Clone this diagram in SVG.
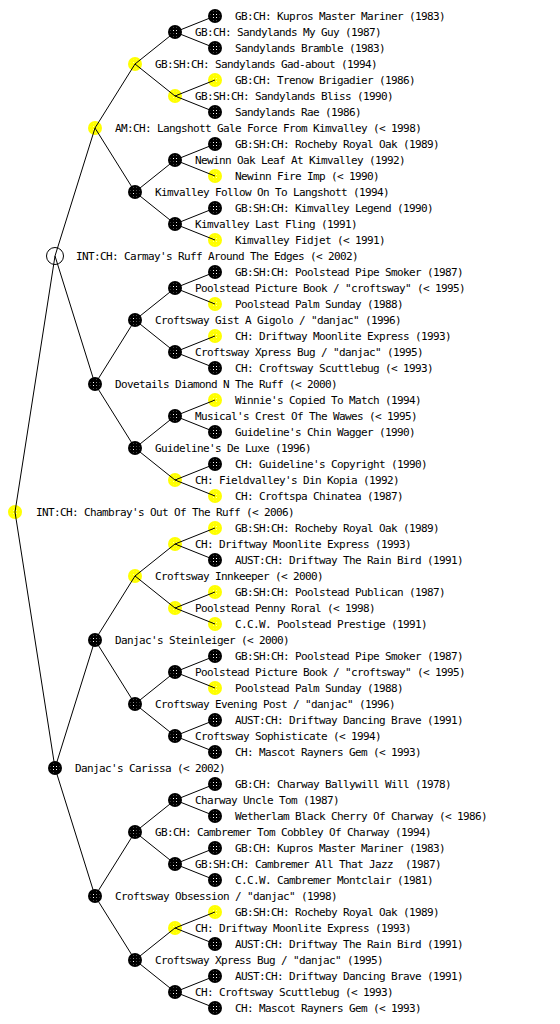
<svg xmlns="http://www.w3.org/2000/svg" xmlns:xlink="http://www.w3.org/1999/xlink" width="560" height="1024" viewBox="0 0 560 1024">
<style>
text{font-family:"DejaVu Sans Mono","Liberation Mono",monospace;font-size:11px;letter-spacing:-0.62px;fill:#000}
.e{stroke:#000;stroke-width:1;fill:none}
</style>
<defs>
<pattern id="dots" width="3" height="3" patternUnits="userSpaceOnUse"><rect x="1" y="1" width="1" height="1" fill="#fff"/></pattern>
<g id="nb"><circle r="7" fill="#000"/><circle r="4.5" fill="url(#dots)"/></g>
<g id="ny"><circle r="7" fill="#ff0"/><circle r="4.5" fill="url(#dots)" opacity="0.6"/></g>
<g id="nw"><circle r="8.5" fill="#fff" stroke="#000" stroke-width="1"/></g>
</defs>
<rect width="560" height="1024" fill="#fff"/>
<g id="nodes">
<g id="root"><use xlink:href="#ny" x="15" y="512"/><text x="36" y="516">INT:CH: Chambray's Out Of The Ruff (&lt; 2006)</text></g>
<g id="s"><use xlink:href="#nw" x="55" y="256"/><text x="76" y="260">INT:CH: Carmay's Ruff Around The Edges (&lt; 2002)</text></g>
<g id="d"><use xlink:href="#nb" x="55" y="768"/><text x="75" y="772">Danjac's Carissa (&lt; 2002)</text></g>
<g id="ss"><use xlink:href="#ny" x="95" y="128"/><text x="115" y="132">AM:CH: Langshott Gale Force From Kimvalley (&lt; 1998)</text></g>
<g id="sd"><use xlink:href="#nb" x="95" y="384"/><text x="115" y="388">Dovetails Diamond N The Ruff (&lt; 2000)</text></g>
<g id="ds"><use xlink:href="#nb" x="95" y="640"/><text x="115" y="644">Danjac's Steinleiger (&lt; 2000)</text></g>
<g id="dd"><use xlink:href="#nb" x="95" y="896"/><text x="115" y="900">Croftsway Obsession / "danjac" (1998)</text></g>
<g id="g3-0"><use xlink:href="#ny" x="135" y="64"/><text x="155" y="68">GB:SH:CH: Sandylands Gad-about (1994)</text></g>
<g id="g3-1"><use xlink:href="#nb" x="135" y="192"/><text x="155" y="196">Kimvalley Follow On To Langshott (1994)</text></g>
<g id="g3-2"><use xlink:href="#nb" x="135" y="320"/><text x="155" y="324">Croftsway Gist A Gigolo / "danjac" (1996)</text></g>
<g id="g3-3"><use xlink:href="#nb" x="135" y="448"/><text x="155" y="452">Guideline's De Luxe (1996)</text></g>
<g id="g3-4"><use xlink:href="#ny" x="135" y="576"/><text x="155" y="580">Croftsway Innkeeper (&lt; 2000)</text></g>
<g id="g3-5"><use xlink:href="#nb" x="135" y="704"/><text x="155" y="708">Croftsway Evening Post / "danjac" (1996)</text></g>
<g id="g3-6"><use xlink:href="#nb" x="135" y="832"/><text x="155" y="836">GB:CH: Cambremer Tom Cobbley Of Charway (1994)</text></g>
<g id="g3-7"><use xlink:href="#nb" x="135" y="960"/><text x="155" y="964">Croftsway Xpress Bug / "danjac" (1995)</text></g>
<g id="g4-0"><use xlink:href="#nb" x="175" y="32"/><text x="195" y="36">GB:CH: Sandylands My Guy (1987)</text></g>
<g id="g4-1"><use xlink:href="#ny" x="175" y="96"/><text x="195" y="100">GB:SH:CH: Sandylands Bliss (1990)</text></g>
<g id="g4-2"><use xlink:href="#nb" x="175" y="160"/><text x="195" y="164">Newinn Oak Leaf At Kimvalley (1992)</text></g>
<g id="g4-3"><use xlink:href="#nb" x="175" y="224"/><text x="195" y="228">Kimvalley Last Fling (1991)</text></g>
<g id="g4-4"><use xlink:href="#nb" x="175" y="288"/><text x="195" y="292">Poolstead Picture Book / "croftsway" (&lt; 1995)</text></g>
<g id="g4-5"><use xlink:href="#nb" x="175" y="352"/><text x="195" y="356">Croftsway Xpress Bug / "danjac" (1995)</text></g>
<g id="g4-6"><use xlink:href="#nb" x="175" y="416"/><text x="195" y="420">Musical's Crest Of The Wawes (&lt; 1995)</text></g>
<g id="g4-7"><use xlink:href="#ny" x="175" y="480"/><text x="195" y="484">CH: Fieldvalley's Din Kopia (1992)</text></g>
<g id="g4-8"><use xlink:href="#ny" x="175" y="544"/><text x="195" y="548">CH: Driftway Moonlite Express (1993)</text></g>
<g id="g4-9"><use xlink:href="#ny" x="175" y="608"/><text x="195" y="612">Poolstead Penny Roral (&lt; 1998)</text></g>
<g id="g4-10"><use xlink:href="#nb" x="175" y="672"/><text x="195" y="676">Poolstead Picture Book / "croftsway" (&lt; 1995)</text></g>
<g id="g4-11"><use xlink:href="#nb" x="175" y="736"/><text x="195" y="740">Croftsway Sophisticate (&lt; 1994)</text></g>
<g id="g4-12"><use xlink:href="#nb" x="175" y="800"/><text x="195" y="804">Charway Uncle Tom (1987)</text></g>
<g id="g4-13"><use xlink:href="#nb" x="175" y="864"/><text x="195" y="868" xml:space="preserve">GB:SH:CH: Cambremer All That Jazz  (1987)</text></g>
<g id="g4-14"><use xlink:href="#ny" x="175" y="928"/><text x="195" y="932">CH: Driftway Moonlite Express (1993)</text></g>
<g id="g4-15"><use xlink:href="#nb" x="175" y="992"/><text x="195" y="996">CH: Croftsway Scuttlebug (&lt; 1993)</text></g>
<g id="l0"><use xlink:href="#nb" x="215" y="16"/><text x="235" y="20">GB:CH: Kupros Master Mariner (1983)</text></g>
<g id="l1"><use xlink:href="#nb" x="215" y="48"/><text x="235" y="52">Sandylands Bramble (1983)</text></g>
<g id="l2"><use xlink:href="#ny" x="215" y="80"/><text x="235" y="84">GB:CH: Trenow Brigadier (1986)</text></g>
<g id="l3"><use xlink:href="#nb" x="215" y="112"/><text x="235" y="116">Sandylands Rae (1986)</text></g>
<g id="l4"><use xlink:href="#nb" x="215" y="144"/><text x="235" y="148">GB:SH:CH: Rocheby Royal Oak (1989)</text></g>
<g id="l5"><use xlink:href="#ny" x="215" y="176"/><text x="235" y="180">Newinn Fire Imp (&lt; 1990)</text></g>
<g id="l6"><use xlink:href="#nb" x="215" y="208"/><text x="235" y="212">GB:SH:CH: Kimvalley Legend (1990)</text></g>
<g id="l7"><use xlink:href="#ny" x="215" y="240"/><text x="235" y="244">Kimvalley Fidjet (&lt; 1991)</text></g>
<g id="l8"><use xlink:href="#nb" x="215" y="272"/><text x="235" y="276">GB:SH:CH: Poolstead Pipe Smoker (1987)</text></g>
<g id="l9"><use xlink:href="#ny" x="215" y="304"/><text x="235" y="308">Poolstead Palm Sunday (1988)</text></g>
<g id="l10"><use xlink:href="#ny" x="215" y="336"/><text x="235" y="340">CH: Driftway Moonlite Express (1993)</text></g>
<g id="l11"><use xlink:href="#nb" x="215" y="368"/><text x="235" y="372">CH: Croftsway Scuttlebug (&lt; 1993)</text></g>
<g id="l12"><use xlink:href="#ny" x="215" y="400"/><text x="235" y="404">Winnie's Copied To Match (1994)</text></g>
<g id="l13"><use xlink:href="#nb" x="215" y="432"/><text x="235" y="436">Guideline's Chin Wagger (1990)</text></g>
<g id="l14"><use xlink:href="#nb" x="215" y="464"/><text x="235" y="468">CH: Guideline's Copyright (1990)</text></g>
<g id="l15"><use xlink:href="#ny" x="215" y="496"/><text x="235" y="500">CH: Croftspa Chinatea (1987)</text></g>
<g id="l16"><use xlink:href="#ny" x="215" y="528"/><text x="235" y="532">GB:SH:CH: Rocheby Royal Oak (1989)</text></g>
<g id="l17"><use xlink:href="#nb" x="215" y="560"/><text x="235" y="564">AUST:CH: Driftway The Rain Bird (1991)</text></g>
<g id="l18"><use xlink:href="#ny" x="215" y="592"/><text x="235" y="596">GB:SH:CH: Poolstead Publican (1987)</text></g>
<g id="l19"><use xlink:href="#ny" x="215" y="624"/><text x="235" y="628">C.C.W. Poolstead Prestige (1991)</text></g>
<g id="l20"><use xlink:href="#nb" x="215" y="656"/><text x="235" y="660">GB:SH:CH: Poolstead Pipe Smoker (1987)</text></g>
<g id="l21"><use xlink:href="#ny" x="215" y="688"/><text x="235" y="692">Poolstead Palm Sunday (1988)</text></g>
<g id="l22"><use xlink:href="#nb" x="215" y="720"/><text x="235" y="724">AUST:CH: Driftway Dancing Brave (1991)</text></g>
<g id="l23"><use xlink:href="#nb" x="215" y="752"/><text x="235" y="756">CH: Mascot Rayners Gem (&lt; 1993)</text></g>
<g id="l24"><use xlink:href="#nb" x="215" y="784"/><text x="235" y="788">GB:CH: Charway Ballywill Will (1978)</text></g>
<g id="l25"><use xlink:href="#nb" x="215" y="816"/><text x="235" y="820">Wetherlam Black Cherry Of Charway (&lt; 1986)</text></g>
<g id="l26"><use xlink:href="#nb" x="215" y="848"/><text x="235" y="852">GB:CH: Kupros Master Mariner (1983)</text></g>
<g id="l27"><use xlink:href="#nb" x="215" y="880"/><text x="235" y="884">C.C.W. Cambremer Montclair (1981)</text></g>
<g id="l28"><use xlink:href="#ny" x="215" y="912"/><text x="235" y="916">GB:SH:CH: Rocheby Royal Oak (1989)</text></g>
<g id="l29"><use xlink:href="#nb" x="215" y="944"/><text x="235" y="948">AUST:CH: Driftway The Rain Bird (1991)</text></g>
<g id="l30"><use xlink:href="#nb" x="215" y="976"/><text x="235" y="980">AUST:CH: Driftway Dancing Brave (1991)</text></g>
<g id="l31"><use xlink:href="#nb" x="215" y="1008"/><text x="235" y="1012">CH: Mascot Rayners Gem (&lt; 1993)</text></g>
</g>
<g id="connectors" class="e">
<path d="M15 512L55 256M15 512L55 768"/>
<path d="M55 256L95 128M55 256L95 384M55 768L95 640M55 768L95 896"/>
<path d="M95 128L135 64M95 128L135 192M95 384L135 320M95 384L135 448M95 640L135 576M95 640L135 704M95 896L135 832M95 896L135 960"/>
<path d="M135 64L175 32M135 64L175 96M135 192L175 160M135 192L175 224M135 320L175 288M135 320L175 352M135 448L175 416M135 448L175 480M135 576L175 544M135 576L175 608M135 704L175 672M135 704L175 736M135 832L175 800M135 832L175 864M135 960L175 928M135 960L175 992"/>
<path d="M175 32L215 16M175 32L215 48M175 96L215 80M175 96L215 112M175 160L215 144M175 160L215 176M175 224L215 208M175 224L215 240M175 288L215 272M175 288L215 304M175 352L215 336M175 352L215 368M175 416L215 400M175 416L215 432M175 480L215 464M175 480L215 496M175 544L215 528M175 544L215 560M175 608L215 592M175 608L215 624M175 672L215 656M175 672L215 688M175 736L215 720M175 736L215 752M175 800L215 784M175 800L215 816M175 864L215 848M175 864L215 880M175 928L215 912M175 928L215 944M175 992L215 976M175 992L215 1008"/>
</g>
</svg>
